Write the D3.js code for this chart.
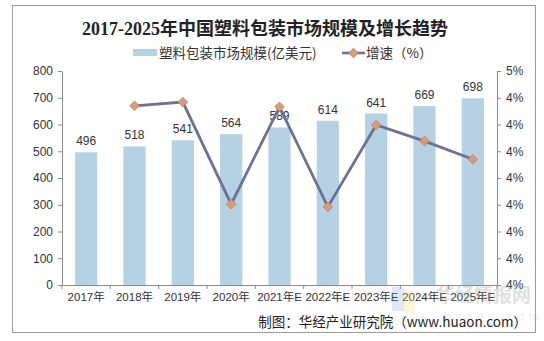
<!DOCTYPE html>
<html>
<head>
<meta charset="utf-8">
<script src="https://cdn.jsdelivr.net/npm/d3@7"></script>
<style>
  body { margin: 0; background: #fff; }
  svg { display: block; font-family: "Liberation Sans", Arial, "Noto Sans CJK SC", sans-serif; }
</style>
</head>
<body>
<svg width="544" height="341"></svg>
<script>
var years = ["2017年", "2018年", "2019年", "2020年", "2021年E", "2022年E", "2023年E", "2024年E", "2025年E"];
var marketSize = [496, 518, 541, 564, 589, 614, 641, 669, 698];
// growth rate, % (first year has none)
var growth = [null, 4.435, 4.442, 4.251, 4.433, 4.246, 4.399, 4.369, 4.335];
var leftTicks = [0, 100, 200, 300, 400, 500, 600, 700, 800];
var rightTicks = [4.10, 4.15, 4.20, 4.25, 4.30, 4.35, 4.40, 4.45, 4.50];
var rightTickLabels = ["4%", "4%", "4%", "4%", "4%", "4%", "4%", "4%", "5%"];

var svg = d3.select("svg"),
    margin = {top: 71, right: 47, bottom: 56, left: 62},
    width = 544 - margin.left - margin.right,
    height = 341 - margin.top - margin.bottom,
    g = svg.append("g").attr("transform", "translate(" + margin.left + "," + margin.top + ")");

var barColor = "#b5d1e3",
    lineColor = "#6c7195",
    markColor = "#e19a6c",
    axisColor = "#8c8c8c",
    textColor = "#333";

// outer frame
svg.append("rect")
    .attr("x", 12.5).attr("y", 5.5)
    .attr("width", 523).attr("height", 327)
    .attr("fill", "none")
    .attr("stroke", "#9a9a9a");

svg.append("text")
    .attr("x", 265).attr("y", 35)
    .attr("text-anchor", "middle")
    .attr("font-family", "'Liberation Serif', 'DejaVu Serif', 'Noto Sans CJK SC', serif")
    .attr("font-weight", "bold")
    .attr("font-size", 18)
    .attr("fill", "#222")
    .text("2017-2025年中国塑料包装市场规模及增长趋势");

var x = d3.scaleBand()
    .domain(years)
    .range([0, width])
    .paddingInner(0.54)
    .paddingOuter(0.27);

var y = d3.scaleLinear().domain([0, 800]).range([height, 0]);
var y2 = d3.scaleLinear().domain([4.1, 4.5]).range([height, 0]);

// watermark behind the marks
var wm = svg.append("g").attr("opacity", 0.3);
wm.append("rect").attr("x", 392).attr("y", 287).attr("width", 12).attr("height", 24).attr("fill", "#5b9bd5").attr("opacity", 0.7);
wm.append("rect").attr("x", 404).attr("y", 291).attr("width", 11).attr("height", 22).attr("fill", "#ffd966").attr("opacity", 0.8);
wm.append("text")
    .attr("x", 436).attr("y", 302)
    .attr("font-family", "'Noto Sans CJK SC', sans-serif")
    .attr("font-weight", "bold")
    .attr("font-size", 19)
    .attr("fill", "#9a9a9a")
    .text("华经情报网");
wm.append("text")
    .attr("x", 444).attr("y", 320)
    .attr("font-size", 11)
    .attr("letter-spacing", 5)
    .attr("fill", "#c0c0c0")
    .text("huaon.com");

g.selectAll(".bar")
  .data(marketSize)
  .enter().append("rect")
    .attr("class", "bar")
    .attr("x", function(d, i) { return x(years[i]); })
    .attr("y", function(d) { return y(d); })
    .attr("width", x.bandwidth())
    .attr("height", function(d) { return height - y(d); })
    .attr("fill", barColor);

g.selectAll(".val")
  .data(marketSize)
  .enter().append("text")
    .attr("class", "val")
    .attr("x", function(d, i) { return x(years[i]) + x.bandwidth() / 2; })
    .attr("y", function(d) { return y(d) - 7; })
    .attr("text-anchor", "middle")
    .attr("font-size", 12)
    .attr("fill", textColor)
    .text(function(d) { return d; });

// axes
var leftAxis = g.append("g")
    .call(d3.axisLeft(y).tickValues(leftTicks).tickSize(4).tickSizeOuter(0));
var rightAxis = g.append("g")
    .attr("transform", "translate(" + width + ",0)")
    .call(d3.axisRight(y2).tickValues(rightTicks).tickSize(4).tickSizeOuter(0)
      .tickFormat(function(d, i) { return rightTickLabels[i]; }));

var step = x.step();
var bottomAxis = g.append("g")
    .attr("transform", "translate(0," + height + ")")
    .call(d3.axisBottom(x).tickSize(0).tickPadding(8));
bottomAxis.selectAll(".sep")
  .data(d3.range(years.length + 1))
  .enter().append("line")
    .attr("class", "sep")
    .attr("x1", function(i) { return i * step; })
    .attr("x2", function(i) { return i * step; })
    .attr("y1", 0).attr("y2", 4)
    .attr("stroke", axisColor);

[leftAxis, rightAxis, bottomAxis].forEach(function(a) {
  a.select(".domain").attr("stroke", axisColor);
  a.selectAll(".tick line").attr("stroke", axisColor);
  a.selectAll("text").attr("font-size", 12).attr("fill", textColor)
    .attr("font-family", "'Liberation Sans', Arial, 'Noto Sans CJK SC', sans-serif");
});
leftAxis.selectAll("text").attr("dx", "-2");
rightAxis.selectAll("text").attr("dx", "2");
bottomAxis.selectAll("text").attr("font-size", 11.5);

// growth line
var pts = growth.map(function(d, i) { return {c: years[i], v: d}; })
    .filter(function(d) { return d.v !== null; });

var line = d3.line()
    .x(function(d) { return x(d.c) + x.bandwidth() / 2; })
    .y(function(d) { return y2(d.v); });

g.append("path")
    .datum(pts)
    .attr("d", line)
    .attr("fill", "none")
    .attr("stroke", lineColor)
    .attr("stroke-width", 2.8);

var diamond = d3.symbol().type(d3.symbolDiamond2).size(60);
g.selectAll(".mk")
  .data(pts)
  .enter().append("path")
    .attr("class", "mk")
    .attr("d", diamond)
    .attr("transform", function(d) {
      return "translate(" + (x(d.c) + x.bandwidth() / 2) + "," + y2(d.v) + ")";
    })
    .attr("fill", markColor)
    .attr("stroke", "#9b8d86")
    .attr("stroke-width", 0.8);

// legend
var lg = svg.append("g").attr("font-size", 13.5).attr("fill", textColor)
    .attr("font-family", "'Noto Sans CJK SC', sans-serif");
lg.append("rect").attr("x", 133).attr("y", 49).attr("width", 24).attr("height", 7).attr("fill", barColor);
lg.append("text").attr("x", 159).attr("y", 58).text("塑料包装市场规模(亿美元)");
lg.append("line").attr("x1", 342).attr("x2", 365).attr("y1", 53).attr("y2", 53)
    .attr("stroke", lineColor).attr("stroke-width", 2.6);
lg.append("path").attr("d", diamond).attr("transform", "translate(353.5,53)")
    .attr("fill", markColor).attr("stroke", "#9b8d86").attr("stroke-width", 0.8);
lg.append("text").attr("x", 366).attr("y", 58).text("增速（%）");

svg.append("text")
    .attr("x", 527).attr("y", 327)
    .attr("text-anchor", "end")
    .attr("font-size", 13.5)
    .attr("fill", "#222")
    .attr("font-family", "'Noto Sans CJK SC', sans-serif")
    .text("制图：华经产业研究院（www.huaon.com）");
</script>
</body>
</html>
